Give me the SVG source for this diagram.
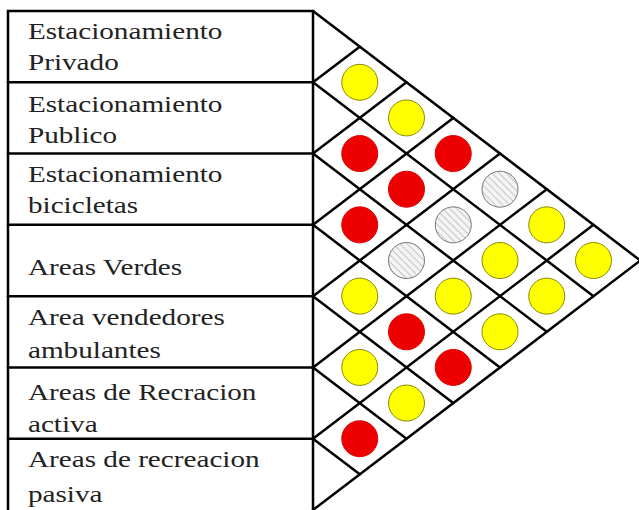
<svg xmlns="http://www.w3.org/2000/svg" width="639" height="510" viewBox="0 0 639 510">
<style>
.lbl{font-family:"Liberation Serif","Times New Roman",serif;font-size:23px;fill:#222}
.ln{stroke:#000;stroke-width:2.5;fill:none;stroke-linecap:round}
.y{fill:#ffff00;stroke:#8a8a00;stroke-width:1}
.r{fill:#ee0000;stroke:#dd0000;stroke-width:1}
.h{fill:url(#hatch);stroke:#777;stroke-width:1}
</style>
<defs>
<pattern id="hatch" patternUnits="userSpaceOnUse" width="5" height="5" patternTransform="rotate(-45)">
<rect width="5" height="5" fill="#f4f4f4"/>
<line x1="0" y1="0" x2="0" y2="5" stroke="#9a9a9a" stroke-width="1"/>
</pattern>
</defs>
<rect width="639" height="510" fill="#fff"/>
<g id="connectors" class="ln">
<rect x="8" y="11" width="305" height="501"/>
<line x1="8" y1="82.29" x2="313" y2="82.29"/>
<line x1="8" y1="153.57" x2="313" y2="153.57"/>
<line x1="8" y1="224.86" x2="313" y2="224.86"/>
<line x1="8" y1="296.14" x2="313" y2="296.14"/>
<line x1="8" y1="367.43" x2="313" y2="367.43"/>
<line x1="8" y1="438.71" x2="313" y2="438.71"/>
<line x1="313" y1="11" x2="640.25" y2="260.5"/>
<line x1="313" y1="82.29" x2="593.5" y2="296.14"/>
<line x1="313" y1="153.57" x2="546.75" y2="331.79"/>
<line x1="313" y1="224.86" x2="500" y2="367.43"/>
<line x1="313" y1="296.14" x2="453.25" y2="403.07"/>
<line x1="313" y1="367.43" x2="406.5" y2="438.71"/>
<line x1="313" y1="438.71" x2="359.75" y2="474.36"/>
<line x1="313" y1="82.29" x2="359.75" y2="46.64"/>
<line x1="313" y1="153.57" x2="406.5" y2="82.29"/>
<line x1="313" y1="224.86" x2="453.25" y2="117.93"/>
<line x1="313" y1="296.14" x2="500" y2="153.57"/>
<line x1="313" y1="367.43" x2="546.75" y2="189.21"/>
<line x1="313" y1="438.71" x2="593.5" y2="224.86"/>
<line x1="313" y1="510" x2="640.25" y2="260.5"/>
</g>
<g transform="scale(1.27,1)">
<g id="row1"><text class="lbl" x="22" y="39">Estacionamiento</text><text class="lbl" x="22" y="70">Privado</text></g>
<g id="row2"><text class="lbl" x="22" y="112">Estacionamiento</text><text class="lbl" x="22" y="143">Publico</text></g>
<g id="row3"><text class="lbl" x="22" y="182">Estacionamiento</text><text class="lbl" x="22" y="213">bicicletas</text></g>
<g id="row4"><text class="lbl" x="22" y="275">Areas Verdes</text></g>
<g id="row5"><text class="lbl" x="22" y="325">Area vendedores</text><text class="lbl" x="22" y="358">ambulantes</text></g>
<g id="row6"><text class="lbl" x="22" y="400">Areas de Recracion</text><text class="lbl" x="22" y="432">activa</text></g>
<g id="row7"><text class="lbl" x="22" y="467">Areas de recreacion</text><text class="lbl" x="22" y="502">pasiva</text></g>
</g>
<g id="cells">
<g id="c01"><circle class="y" cx="359.75" cy="82.29" r="18"/></g>
<g id="c02"><circle class="y" cx="406.5" cy="117.93" r="18"/></g>
<g id="c12"><circle class="r" cx="359.75" cy="153.57" r="18"/></g>
<g id="c03"><circle class="r" cx="453.25" cy="153.57" r="18"/></g>
<g id="c13"><circle class="r" cx="406.5" cy="189.21" r="18"/></g>
<g id="c04"><circle class="h" cx="500" cy="189.21" r="18"/></g>
<g id="c23"><circle class="r" cx="359.75" cy="224.86" r="18"/></g>
<g id="c14"><circle class="h" cx="453.25" cy="224.86" r="18"/></g>
<g id="c05"><circle class="y" cx="546.75" cy="224.86" r="18"/></g>
<g id="c24"><circle class="h" cx="406.5" cy="260.5" r="18"/></g>
<g id="c15"><circle class="y" cx="500" cy="260.5" r="18"/></g>
<g id="c06"><circle class="y" cx="593.5" cy="260.5" r="18"/></g>
<g id="c34"><circle class="y" cx="359.75" cy="296.14" r="18"/></g>
<g id="c25"><circle class="y" cx="453.25" cy="296.14" r="18"/></g>
<g id="c16"><circle class="y" cx="546.75" cy="296.14" r="18"/></g>
<g id="c35"><circle class="r" cx="406.5" cy="331.79" r="18"/></g>
<g id="c26"><circle class="y" cx="500" cy="331.79" r="18"/></g>
<g id="c45"><circle class="y" cx="359.75" cy="367.43" r="18"/></g>
<g id="c36"><circle class="r" cx="453.25" cy="367.43" r="18"/></g>
<g id="c46"><circle class="y" cx="406.5" cy="403.07" r="18"/></g>
<g id="c56"><circle class="r" cx="359.75" cy="438.71" r="18"/></g>
</g>
</svg>
